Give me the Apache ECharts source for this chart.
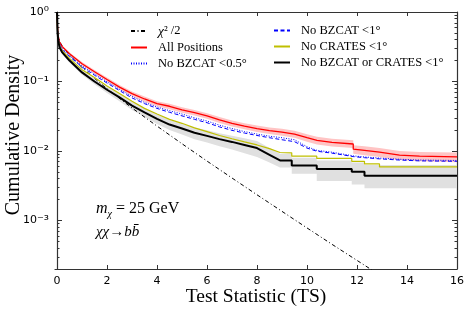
<!DOCTYPE html>
<html>
<head>
<meta charset="utf-8">
<script src="https://cdn.jsdelivr.net/npm/echarts@6/dist/echarts.min.js"></script>
<style>html,body{margin:0;padding:0;background:#fff}#c{width:470px;height:312px}</style>
</head>
<body>
<div id="c"></div>
<script>
// ---- data ----
const xTicks = [0, 2, 4, 6, 8, 10, 12, 14, 16];
const yTicks = [0.001, 0.01, 0.1, 1];
const yTickExp = ['⁻³', '⁻²', '⁻¹', '⁰'];

const chiTS  = [0, 0.1, 0.25, 0.5, 1, 1.5, 2, 3, 4, 5, 6, 7, 8, 9, 10, 11, 12, 12.6];
const chiVal = [0.5, 0.376, 0.309, 0.24, 0.159, 0.111, 0.0786, 0.0416, 0.0228, 0.0127, 0.00715, 0.00408, 0.00234, 0.00135, 0.00078, 0.000453, 0.000266, 0.000193];

const allTS  = [0, 0.02, 0.05, 0.1, 0.2, 0.5, 1.0, 1.5, 2.0, 2.5, 3.0, 3.5, 4.0, 4.5, 5.0, 5.5, 6.0, 6.5, 7.0, 7.5, 8.0, 8.5, 9.0, 9.5, 10.0, 10.4, 11.0, 11.85, 11.85, 12.3, 12.9, 13.7, 14.5, 16];
const allVal = [1.0, 0.6, 0.45, 0.37, 0.32, 0.25, 0.18, 0.138, 0.107, 0.083, 0.067, 0.056, 0.048, 0.044, 0.039, 0.0355, 0.032, 0.028, 0.025, 0.0228, 0.021, 0.0196, 0.0187, 0.0175, 0.0155, 0.0142, 0.0133, 0.0126, 0.0106, 0.0102, 0.0096, 0.0087, 0.0084, 0.0082];
const allHi  = [1.0, 0.62, 0.465, 0.385, 0.333, 0.262, 0.19, 0.146, 0.114, 0.089, 0.072, 0.061, 0.052, 0.048, 0.0425, 0.0388, 0.035, 0.0307, 0.0275, 0.0251, 0.0232, 0.0217, 0.0208, 0.0195, 0.0174, 0.016, 0.015, 0.0143, 0.0121, 0.0117, 0.011, 0.01, 0.0097, 0.0095];
const allLo  = [1.0, 0.58, 0.435, 0.355, 0.307, 0.238, 0.17, 0.13, 0.1, 0.077, 0.062, 0.051, 0.044, 0.04, 0.0355, 0.0323, 0.029, 0.0253, 0.0225, 0.0205, 0.0188, 0.0175, 0.0166, 0.0155, 0.0136, 0.0124, 0.0116, 0.011, 0.0091, 0.0087, 0.0082, 0.0074, 0.0071, 0.0069];

const bz05TS  = [0, 0.02, 0.05, 0.1, 0.2, 0.5, 1.0, 1.5, 2.0, 2.5, 3.0, 3.5, 4.0, 4.5, 5.0, 5.5, 6.0, 6.5, 7.0, 7.5, 8.0, 8.5, 9.0, 9.5, 10.0, 10.4, 11.0, 11.85, 12.3, 12.9, 13.7, 14.5, 16];
const bz05Val = [1.0, 0.58, 0.43, 0.35, 0.30, 0.235, 0.168, 0.128, 0.099, 0.077, 0.061, 0.05, 0.043, 0.038, 0.034, 0.030, 0.027, 0.0235, 0.021, 0.019, 0.0175, 0.0163, 0.0155, 0.0145, 0.0115, 0.0102, 0.0096, 0.0085, 0.0082, 0.0079, 0.0076, 0.0074, 0.0073];

const bz1TS  = [0, 0.02, 0.05, 0.1, 0.2, 0.5, 1.0, 1.5, 2.0, 2.5, 3.0, 3.5, 4.0, 4.5, 5.0, 5.5, 6.0, 6.5, 7.0, 7.5, 8.0, 8.5, 9.0, 9.5, 10.0, 10.4, 11.0, 11.85, 12.3, 12.9, 13.7, 14.5, 16];
const bz1Val = [1.0, 0.57, 0.42, 0.34, 0.29, 0.228, 0.162, 0.123, 0.095, 0.074, 0.058, 0.048, 0.041, 0.036, 0.032, 0.0285, 0.0255, 0.0222, 0.0198, 0.0181, 0.0167, 0.0155, 0.0145, 0.0136, 0.011, 0.0099, 0.0093, 0.0083, 0.008, 0.0077, 0.0074, 0.0072, 0.0071];

const crTS  = [0, 0.02, 0.05, 0.1, 0.2, 0.5, 1.0, 1.5, 2.0, 2.5, 3.0, 3.5, 4.0, 4.5, 5.0, 5.5, 6.0, 6.5, 7.0, 7.5, 8.0, 8.5, 8.92, 9.39, 9.39, 10.39, 10.39, 11.79, 11.79, 12.3, 12.3, 12.9, 12.9, 16];
const crVal = [1.0, 0.55, 0.41, 0.33, 0.28, 0.215, 0.148, 0.114, 0.086, 0.067, 0.052, 0.041, 0.034, 0.0285, 0.025, 0.0215, 0.019, 0.0167, 0.015, 0.0135, 0.0122, 0.0108, 0.0095, 0.0094, 0.0084, 0.0084, 0.0078, 0.0078, 0.0071, 0.0071, 0.0065, 0.0065, 0.0059, 0.0059];

const bothTS  = [0, 0.02, 0.05, 0.1, 0.2, 0.5, 1.0, 1.5, 2.0, 2.5, 3.0, 3.5, 4.0, 4.5, 5.0, 5.5, 6.0, 6.5, 7.0, 7.5, 8.0, 8.5, 8.92, 9.39, 9.39, 10.39, 10.39, 11.79, 11.79, 12.3, 12.3, 16];
const bothVal = [1.0, 0.53, 0.39, 0.31, 0.265, 0.2, 0.135, 0.1, 0.076, 0.059, 0.045, 0.036, 0.029, 0.024, 0.021, 0.0183, 0.0165, 0.0148, 0.0135, 0.0122, 0.011, 0.0088, 0.0073, 0.0073, 0.0062, 0.0062, 0.0055, 0.0055, 0.005, 0.005, 0.0044, 0.0044];
const bothHi  = [1.0, 0.55, 0.41, 0.325, 0.28, 0.212, 0.145, 0.109, 0.084, 0.066, 0.051, 0.041, 0.0335, 0.028, 0.0247, 0.0218, 0.0198, 0.018, 0.0166, 0.0152, 0.0139, 0.011, 0.0091, 0.0091, 0.008, 0.008, 0.0073, 0.0073, 0.0068, 0.0068, 0.0063, 0.0063];
const bothLo  = [1.0, 0.51, 0.37, 0.295, 0.25, 0.188, 0.125, 0.091, 0.068, 0.052, 0.039, 0.031, 0.0245, 0.02, 0.0172, 0.0148, 0.0132, 0.0117, 0.0105, 0.0093, 0.0082, 0.0068, 0.0058, 0.0058, 0.0047, 0.0047, 0.0037, 0.0037, 0.0033, 0.0033, 0.0029, 0.0029];

const names = ['chi2', 'All Positions', 'No BZCAT <0.5°', 'No BZCAT <1°', 'No CRATES <1°', 'No BZCAT or CRATES <1°'];

// ---- build chart ----
const pairs = (xs, ys) => xs.map((x, i) => [x, ys[i]]);
const minorY = [];
[0.0001, 0.001, 0.01, 0.1].forEach(d => { for (let m = 2; m <= 9; m++) { const v = +(d * m).toPrecision(3); if (v >= 0.0002 && v < 1) minorY.push(v); } });

function band(xs, lo, hi, color) {
  return {
    type: 'custom', coordinateSystem: 'cartesian2d', silent: true, z: 1, clip: true,
    data: [[xs[0], lo[0]]], encode: { x: 0, y: 1 },
    renderItem: function (params, api) {
      const pts = [];
      for (let i = 0; i < xs.length; i++) pts.push(api.coord([xs[i], hi[i]]));
      for (let i = xs.length - 1; i >= 0; i--) pts.push(api.coord([xs[i], lo[i]]));
      return { type: 'polygon', shape: { points: pts }, style: { fill: color } };
    }
  };
}
function line(name, xs, ys, color, width, type, z) {
  return { type: 'line', name: name, data: pairs(xs, ys), symbol: 'none', showSymbol: false,
    lineStyle: { color: color, width: width, type: type }, itemStyle: { color: color }, z: z, clip: true };
}

const axisColor = '#333';
const serif = 'Liberation Serif';
const xAxisBase = (pos, showLabel) => ({
  type: 'value', position: pos, min: -0.08, max: 16,
  splitLine: { show: false },
  axisLine: { show: true, onZero: false, lineStyle: { color: axisColor, width: 1.2 } },
  axisTick: { show: true, inside: true, length: 4, customValues: xTicks, lineStyle: { color: axisColor } },
  axisLabel: { show: showLabel, customValues: xTicks, fontFamily: 'DejaVu Sans', fontSize: 11, color: '#000', margin: 7 }
});
const yAxisBase = (pos, values, len, showLabel, showLine) => ({
  type: 'log', logBase: 10, position: pos, min: 0.0002, max: 1,
  splitLine: { show: false },
  axisLine: { show: showLine, lineStyle: { color: axisColor, width: 1.2 } },
  axisTick: { show: true, inside: true, length: len, customValues: values, lineStyle: { color: axisColor } },
  axisLabel: { show: showLabel, customValues: yTicks, margin: 6,
    fontFamily: 'DejaVu Sans', fontSize: 11, color: '#000',
    formatter: v => { let k = 0; yTicks.forEach((t, i) => { if (Math.abs(Math.log10(t) - Math.log10(v)) < 1e-6) k = i; }); return '{b|10}{s|' + yTickExp[k] + '}'; },
    rich: { b: { fontFamily: 'DejaVu Sans', fontSize: 11, color: '#000' },
            s: { fontFamily: 'DejaVu Sans', fontSize: 13, color: '#000' } } }
});

const legendBase = (left, data) => ({
  show: true, orient: 'vertical', left: left, top: 19, itemWidth: 16, itemHeight: 10, itemGap: 3,
  data: data, selectedMode: false,
  itemStyle: { opacity: 0 },
  formatter: n => n === 'chi2' ? '{i|χ}² /2' : n,
  textStyle: { fontFamily: serif, fontSize: 12.5, color: '#000', padding: [0, 0, 0, 6],
    rich: { i: { fontFamily: serif, fontStyle: 'italic', fontSize: 13.5, color: '#000' } } }
});

const chart = echarts.init(document.getElementById('c'), null, { renderer: 'canvas' });
chart.setOption({
  animation: false,
  backgroundColor: '#fff',
  grid: { left: 55, right: 13, top: 12, bottom: 43, containLabel: false },
  xAxis: [xAxisBase('bottom', true), xAxisBase('top', false)],
  yAxis: [
    yAxisBase('left', yTicks, 5, true, true),
    yAxisBase('left', minorY, 2.5, false, false),
    yAxisBase('right', yTicks, 5, false, true),
    yAxisBase('right', minorY, 2.5, false, false)
  ],
  legend: [legendBase(125, names.slice(0, 3)), legendBase(268, names.slice(3))],
  series: [
    band(bothTS, bothLo, bothHi, '#e0e0e0'),
    band(allTS, allLo, allHi, '#ffc4c4'),
    line(names[0], chiTS, chiVal, '#000', 1, [4, 2.5, 1, 2.5], 5),
    line(names[1], allTS, allVal, '#ff0000', 1.3, 'solid', 6),
    line(names[2], bz05TS, bz05Val, '#0000ff', 1, [1, 1.5], 6),
    line(names[3], bz1TS, bz1Val, '#0000ff', 1, [4, 2.5], 6),
    line(names[4], crTS, crVal, '#bfbf00', 1.2, 'solid', 6),
    line(names[5], bothTS, bothVal, '#000', 2, 'solid', 7)
  ],
  graphic: [
    { type: 'text', x: 256, y: 297, style: { text: 'Test Statistic (TS)', fontFamily: serif, fontSize: 19.5, fill: '#000', align: 'center', verticalAlign: 'middle' } },
    { type: 'text', x: 14, y: 135, rotation: Math.PI / 2, style: { text: 'Cumulative Density', fontFamily: serif, fontSize: 20, fill: '#000', align: 'center', verticalAlign: 'middle' } },
    { type: 'text', x: 96, y: 210, style: { text: '{i|m}{sub|χ}{t| = 25 GeV}', verticalAlign: 'middle',
        rich: { i: { fontFamily: serif, fontStyle: 'italic', fontSize: 16, fill: '#000', lineHeight: 18, verticalAlign: 'top' },
                sub: { fontFamily: serif, fontStyle: 'italic', fontSize: 10, fill: '#000', lineHeight: 10, verticalAlign: 'bottom' },
                t: { fontFamily: serif, fontSize: 16, fill: '#000', lineHeight: 18, verticalAlign: 'top' } } } },
    { type: 'text', x: 96, y: 232, style: { text: '{i|χχ}{t|→}{i|bb̄}', verticalAlign: 'middle',
        rich: { i: { fontFamily: serif, fontStyle: 'italic', fontSize: 15, fill: '#000' },
                t: { fontFamily: serif, fontSize: 15, fill: '#000' } } } }
  ]
});
</script>
</body>
</html>
